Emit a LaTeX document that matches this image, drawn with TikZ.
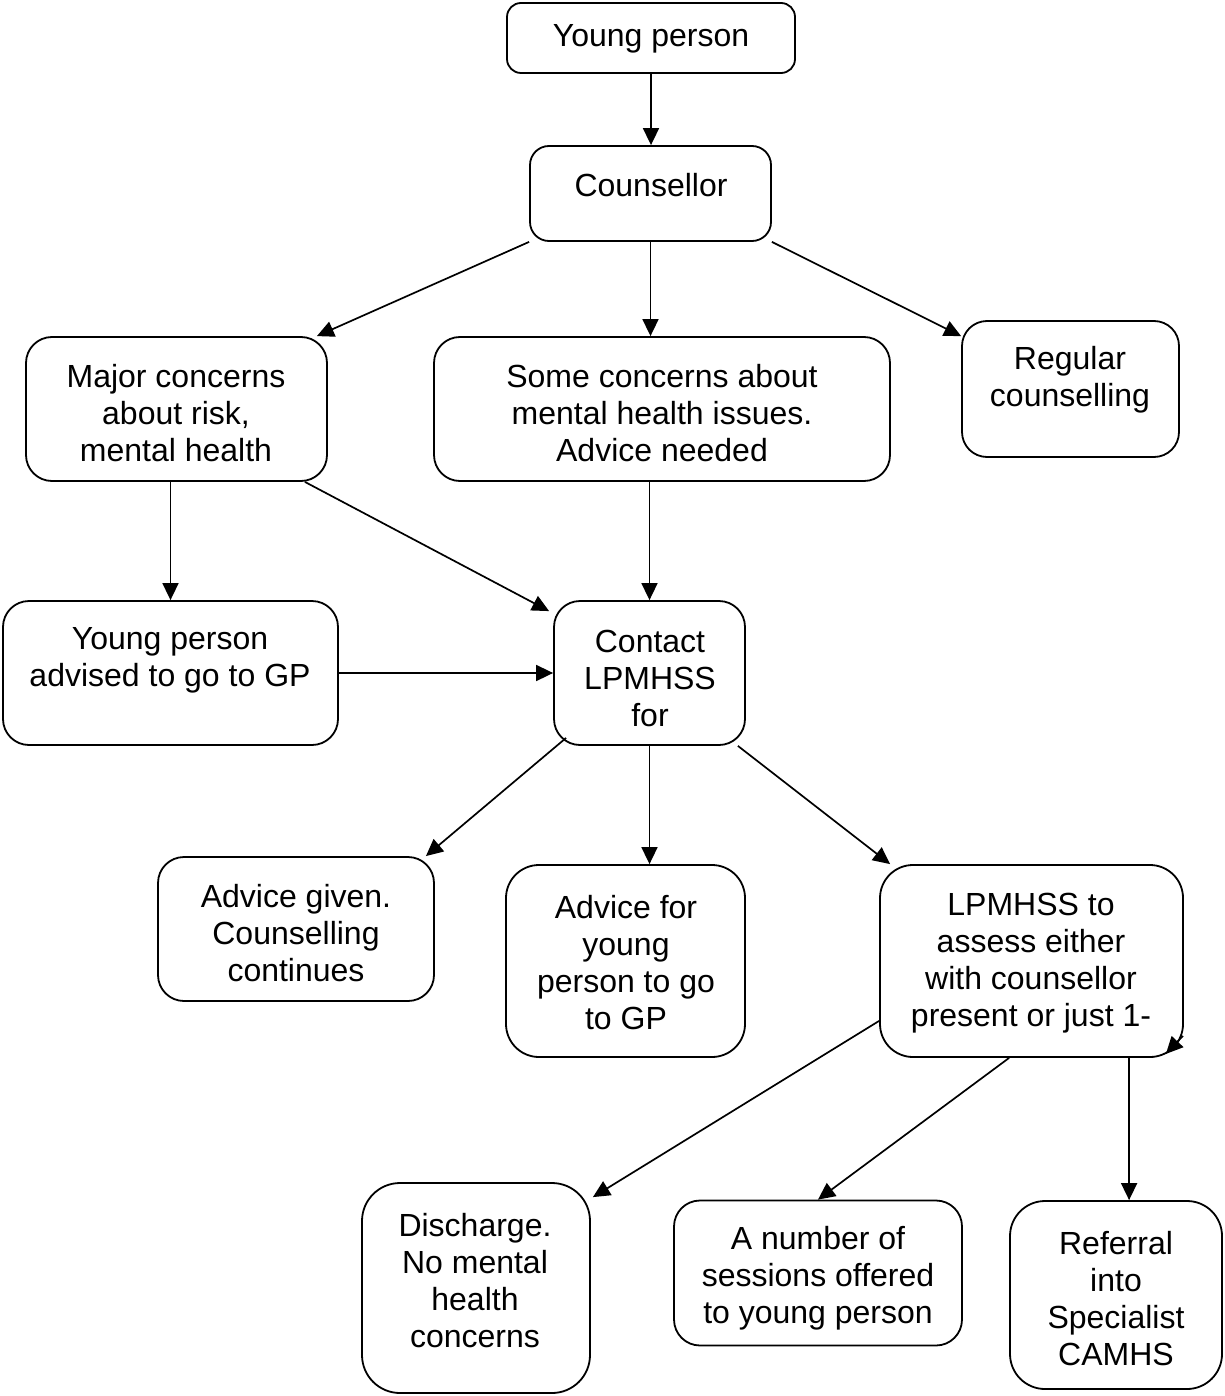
\documentclass[tikz,border=0pt]{standalone}
\usepackage{fontspec}
\setmainfont{Liberation Sans}
\usetikzlibrary{arrows.meta,calc}
\tikzset{
  box/.style={draw, line width=1.8pt, inner sep=0pt, fill=white},
  txt/.style={align=center, font=\fontsize{32}{37}\selectfont, inner sep=0pt, yshift=-3pt},
  arr/.style={line width=1.7pt, -{Triangle[length=17pt,width=16pt]}}
}
\begin{document}
\begin{tikzpicture}[x=1pt,y=-1pt]
\useasboundingbox[fill=white] (0,0) rectangle (1224,1396);
% boxes
\node[box, minimum width=288, minimum height=70,  rounded corners=14] (yp)  at (651,38) {};
\node[box, minimum width=241, minimum height=95,  rounded corners=19] (c)   at (650.5,193.5) {};
\node[box, minimum width=301, minimum height=144, rounded corners=26] (m)   at (176.5,409) {};
\node[box, minimum width=456, minimum height=144, rounded corners=26] (s)   at (662,409) {};
\node[box, minimum width=217, minimum height=136, rounded corners=25] (r)   at (1070.5,389) {};
\node[box, minimum width=335, minimum height=144, rounded corners=26] (a)   at (170.5,673) {};
\node[box, minimum width=191, minimum height=144, rounded corners=26] (ct)  at (649.5,673) {};
\node[box, minimum width=276, minimum height=144, rounded corners=26] (ag)  at (296,929) {};
\node[box, minimum width=239, minimum height=192, rounded corners=33] (af)  at (625.5,961) {};
\node[box, minimum width=303, minimum height=192, rounded corners=33] (lp)  at (1031.5,961) {};
\node[box, minimum width=228, minimum height=210, rounded corners=38] (d)   at (476,1288) {};
\node[box, minimum width=288, minimum height=145, rounded corners=26] (n)   at (818,1273) {};
\node[box, minimum width=212, minimum height=188, rounded corners=35] (ref) at (1116,1295) {};
% texts
\node[txt] (typ)  at (651,36)   {Young person};
\node[txt] (tc)   at (651,182)  {Counsellor};
\node[txt] (tm)   at (176,410)  {Major concerns\\about risk,\\mental health};
\node[txt] (ts)   at (662,410)  {Some concerns about\\mental health issues.\\Advice needed};
\node[txt] (tr)   at (1070,377) {Regular\\counselling};
\node[txt] (ta)   at (170,657)  {Young person\\advised to go to GP};
\node[txt] (tct)  at (650,675)  {Contact\\LPMHSS\\for};
\node[txt] (tag)  at (296,930)  {Advice given.\\Counselling\\continues};
\node[txt] (taf)  at (626,960)  {Advice for\\young\\person to go\\to GP};
\node[txt] (tlp)  at (1031,960) {LPMHSS to\\assess either\\with counsellor\\present or just 1-};
\node[txt] (td)   at (475,1278) {Discharge.\\No mental\\health\\concerns};
\node[txt] (tn)   at (818,1275) {A number of\\sessions offered\\to young person};
\node[txt] (tref) at (1116,1296) {Referral\\into\\Specialist\\CAMHS};
% connectors
\draw[arr] (yp.south) -- (yp.south |- c.north);
\draw[arr] (c.south west) -- ($(m.north east)+(-11,0)$);
\draw[arr] (c.south) -- (c.south |- s.north);
\draw[arr] (c.south east) -- ($(r.north west)+(0,16)$);
\draw[arr] (a.north |- m.south) -- (a.north);
\draw[arr] ($(m.south east)+(-23,0)$) -- ($(ct.north west)+(-4,11)$);
\draw[arr] (ct.north |- s.south) -- (ct.north);
\draw[arr] (a.east) -- (a.east -| ct.west);
\draw[arr] ($(ct.south west)+(13,-8)$) -- ($(ag.north east)+(-9,0)$);
\draw[arr] (ct.south) -- (ct.south |- af.north);
\draw[arr] ($(ct.south east)+(-8,0)$) -- ($(lp.north west)+(11,0)$);
\draw[arr] ($(lp.south west)+(0,-37)$) -- ($(d.north east)+(2,15)$);
\draw[arr] ($(lp.south west)+(130,0)$) -- (n.north);
\coordinate (lpr) at ($(lp.south west)+(250,0)$);
\draw[arr] (lpr) -- (lpr |- ref.north);
\draw[arr] ($(lp.south east)+(-1,-22)$) -- ($(lp.south east)+(-18,-4)$);
\end{tikzpicture}
\end{document}
